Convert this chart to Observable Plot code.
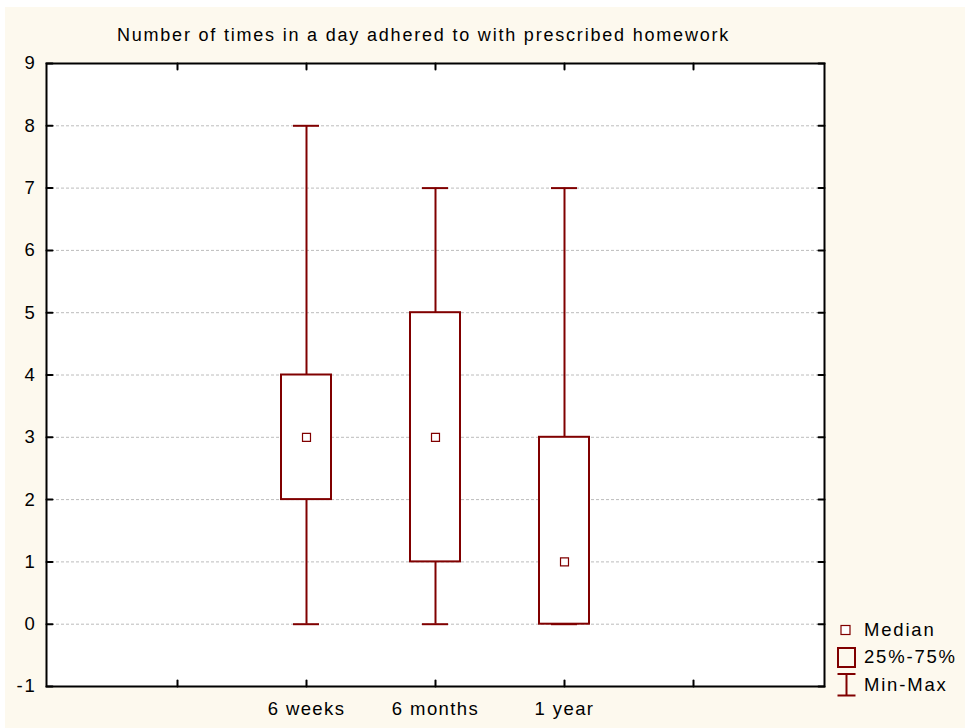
<!DOCTYPE html>
<html><head><meta charset="utf-8">
<script src="https://cdn.jsdelivr.net/npm/d3@7"></script>
<script src="https://cdn.jsdelivr.net/npm/@observablehq/plot@0.6"></script>
<style>
html,body{margin:0;padding:0;background:#ffffff;}
#wrap{position:absolute;left:5px;top:7px;width:960px;height:721px;background:#fdf9ee;overflow:hidden;font-family:"Liberation Sans",Arial,sans-serif;}
#chart svg{display:block;background:transparent;}
#chart svg text, #legend text{letter-spacing:1.8px;}
#chart svg g[aria-label="x-axis tick label"] text{letter-spacing:1.4px;}
#legend{position:absolute;left:826px;top:606px;}
</style></head><body>
<div id="wrap"><div id="chart"></div><svg id="legend" width="134" height="100"></svg></div>
<script>
const title = "Number of times in a day adhered to with prescribed homework";
const categories = ["6 weeks", "6 months", "1 year"];
const minValues = [0, 0, 0];
const q1Values = [2, 1, 0];
const medianValues = [3, 3, 1];
const q3Values = [4, 5, 3];
const maxValues = [8, 7, 7];
const yTicks = [-1, 0, 1, 2, 3, 4, 5, 6, 7, 8, 9];
const gridTicks = [0, 1, 2, 3, 4, 5, 6, 7, 8];
const legendLabels = ["Median", "25%-75%", "Min-Max"];

const maroon = "#800000";
const xSlots = ["_left", ...categories, "_right"];
const data = categories.map((c, i) => ({
  cat: c, min: minValues[i], q1: q1Values[i], median: medianValues[i], q3: q3Values[i], max: maxValues[i]
}));

// a plain line shape for inward tick marks
const lineShape = {draw(context, l) { context.moveTo(0, 0); context.lineTo(0, -l); }};

const chart = Plot.plot({
  width: 960,
  height: 721,
  marginLeft: 41,
  marginRight: 141,
  marginTop: 56,
  marginBottom: 42,
  style: {background: "transparent", fontFamily: "'Liberation Sans', Arial, sans-serif", color: "#000"},
  x: {type: "band", domain: xSlots, paddingInner: 0.615, paddingOuter: 0.808, axis: null},
  y: {domain: [-1, 9], axis: null},
  marks: [
    Plot.frame({fill: "white"}),
    Plot.gridY({ticks: gridTicks, stroke: "#bcbcbc", strokeOpacity: 1, strokeDasharray: "3,2"}),
    Plot.ruleX(data, {x: "cat", y1: "min", y2: "q1", stroke: maroon, strokeWidth: 2}),
    Plot.ruleX(data, {x: "cat", y1: "q3", y2: "max", stroke: maroon, strokeWidth: 2}),
    Plot.tickY(data, {x: "cat", y: "min", insetLeft: 12, insetRight: 12, stroke: maroon, strokeWidth: 2}),
    Plot.tickY(data, {x: "cat", y: "max", insetLeft: 12, insetRight: 12, stroke: maroon, strokeWidth: 2}),
    Plot.barY(data, {x: "cat", y1: "q1", y2: "q3", fill: "white", stroke: maroon, strokeWidth: 2}),
    Plot.dot(data, {x: "cat", y: "median", symbol: "square", r: 4.5, fill: "white", stroke: maroon, strokeWidth: 1.2}),
    Plot.frame({stroke: "black", strokeWidth: 2}),
    Plot.vector(yTicks, {y: d => d, frameAnchor: "left", length: 6, rotate: 90, anchor: "start", shape: lineShape, stroke: "black", strokeWidth: 2}),
    Plot.vector(yTicks, {y: d => d, frameAnchor: "right", length: 6, rotate: -90, anchor: "start", shape: lineShape, stroke: "black", strokeWidth: 2}),
    Plot.vector(xSlots, {x: d => d, frameAnchor: "bottom", length: 6, rotate: 0, anchor: "start", shape: lineShape, stroke: "black", strokeWidth: 2}),
    Plot.vector(xSlots, {x: d => d, frameAnchor: "top", length: 6, rotate: 180, anchor: "start", shape: lineShape, stroke: "black", strokeWidth: 2}),
    Plot.axisY({ticks: yTicks, tickFormat: d => String(d), tickSize: 0, tickPadding: 10, fontSize: 18.5, label: null}),
    Plot.axisX({ticks: categories, tickSize: 0, tickPadding: 15, fontSize: 18.5, label: null}),
    Plot.text([title], {text: d => d, frameAnchor: "top", dx: -12, dy: -35, fontSize: 18, fill: "black"})
  ]
});
document.getElementById("chart").appendChild(chart);

// Legend
const lg = d3.select("#legend");
const ox = 826, oy = 606; // legend origin inside wrap
const items = [
  {label: legendLabels[0], cy: 623},
  {label: legendLabels[1], cy: 650},
  {label: legendLabels[2], cy: 678}
];
lg.append("rect").attr("x", 836 - ox).attr("y", 618.5 - oy).attr("width", 9).attr("height", 9)
  .attr("fill", "white").attr("stroke", maroon).attr("stroke-width", 1.2);
lg.append("rect").attr("x", 833 - ox).attr("y", 641 - oy).attr("width", 17).attr("height", 19)
  .attr("fill", "none").attr("stroke", maroon).attr("stroke-width", 2);
const ix = 841.5 - ox, iy1 = 667 - oy, iy2 = 688.5 - oy;
lg.append("line").attr("x1", ix).attr("x2", ix).attr("y1", iy1).attr("y2", iy2).attr("stroke", maroon).attr("stroke-width", 2);
lg.append("line").attr("x1", ix - 9).attr("x2", ix + 9).attr("y1", iy1).attr("y2", iy1).attr("stroke", maroon).attr("stroke-width", 2);
lg.append("line").attr("x1", ix - 9).attr("x2", ix + 9).attr("y1", iy2).attr("y2", iy2).attr("stroke", maroon).attr("stroke-width", 2);
lg.selectAll("text.lab").data(items).join("text").attr("class", "lab")
  .attr("x", 859 - ox).attr("y", d => d.cy - oy).attr("dy", "0.35em")
  .attr("font-size", 18.5).attr("fill", "black").attr("font-family", "'Liberation Sans', Arial, sans-serif")
  .text(d => d.label);
</script>
</body></html>
